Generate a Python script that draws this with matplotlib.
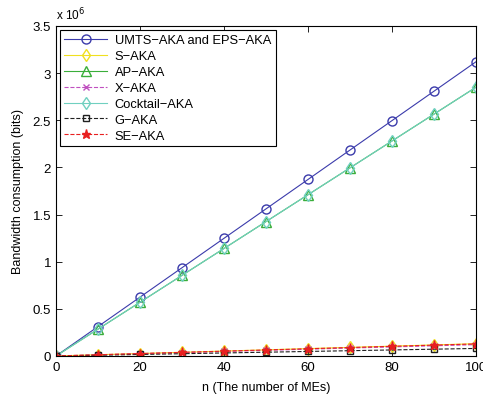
import matplotlib
matplotlib.use('Agg')
import matplotlib.pyplot as plt
import numpy as np
from matplotlib.ticker import FuncFormatter

plt.rcParams['font.family'] = ['Liberation Sans', 'DejaVu Sans']

# number of MEs
n = [0, 10, 20, 30, 40, 50, 60, 70, 80, 90, 100]

# bandwidth consumption (bits)
umts = [0, 312000, 624000, 936000, 1248000, 1560000, 1872000, 2184000, 2496000, 2808000, 3120000]
s_aka = [0, 13000, 26000, 39000, 52000, 65000, 78000, 91000, 104000, 117000, 130000]
ap_aka = [0, 285000, 570000, 855000, 1140000, 1425000, 1710000, 1995000, 2280000, 2565000, 2850000]
x_aka = [0, 12000, 24000, 36000, 48000, 60000, 72000, 84000, 96000, 108000, 120000]
cocktail = [0, 285000, 570000, 855000, 1140000, 1425000, 1710000, 1995000, 2280000, 2565000, 2850000]
g_aka = [0, 8000, 16000, 24000, 32000, 40000, 48000, 56000, 64000, 72000, 80000]
se_aka = [0, 12800, 25600, 38400, 51200, 64000, 76800, 89600, 102400, 115200, 128000]

fig = plt.figure(figsize=(4.83, 4.02), dpi=100)
ax = fig.add_axes([0.116, 0.112, 0.8695, 0.821])

lw = 0.8
ms = 6.5
ax.plot(n, umts, '-o', color='#3b3bab', lw=lw, ms=ms, mfc='none', label='UMTS\u2212AKA and EPS\u2212AKA')
ax.plot(n, s_aka, '-d', color='#f0e020', lw=lw, ms=ms, mfc='none', label='S\u2212AKA')
ax.plot(n, ap_aka, '-^', color='#3aae3a', lw=lw, ms=ms, mfc='none', label='AP\u2212AKA')
ax.plot(n, x_aka, '--x', color='#c050c0', lw=lw, ms=4, label='X\u2212AKA')
ax.plot(n, cocktail, '-d', color='#70d0c0', lw=lw, ms=ms, mfc='none', label='Cocktail\u2212AKA')
ax.plot(n, g_aka, '--s', color='#202020', lw=lw, ms=5, mfc='none', label='G\u2212AKA')
ax.plot(n, se_aka, '--*', color='#e82020', lw=lw, ms=6.5, label='SE\u2212AKA')

ax.set_xlim(0, 100)
ax.set_ylim(0, 3.5e6)
ax.set_xticks([0, 20, 40, 60, 80, 100])
ax.set_yticks(np.arange(0, 3.51e6, 0.5e6))
ax.yaxis.set_major_formatter(FuncFormatter(lambda v, p: '%g' % (v / 1e6)))
ax.tick_params(direction='in', top=True, right=True, labelsize=9.5, length=4, width=0.6)
for sp in ax.spines.values():
    sp.set_linewidth(0.8)

ax.text(0.0, 1.012, 'x 10$^6$', transform=ax.transAxes, fontsize=8.5, ha='left', va='bottom')

ax.set_xlabel('n (The number of MEs)', fontsize=9, labelpad=6)
ax.set_ylabel('Bandwidth consumption (bits)', fontsize=9, labelpad=6)

leg = ax.legend(loc='upper left', fontsize=9.3, fancybox=False, framealpha=1,
                edgecolor='black', borderaxespad=0.3, handlelength=3.3,
                labelspacing=0.3, borderpad=0.35, handletextpad=0.6)
leg.get_frame().set_linewidth(0.8)

fig.savefig('out.png', dpi=100)
